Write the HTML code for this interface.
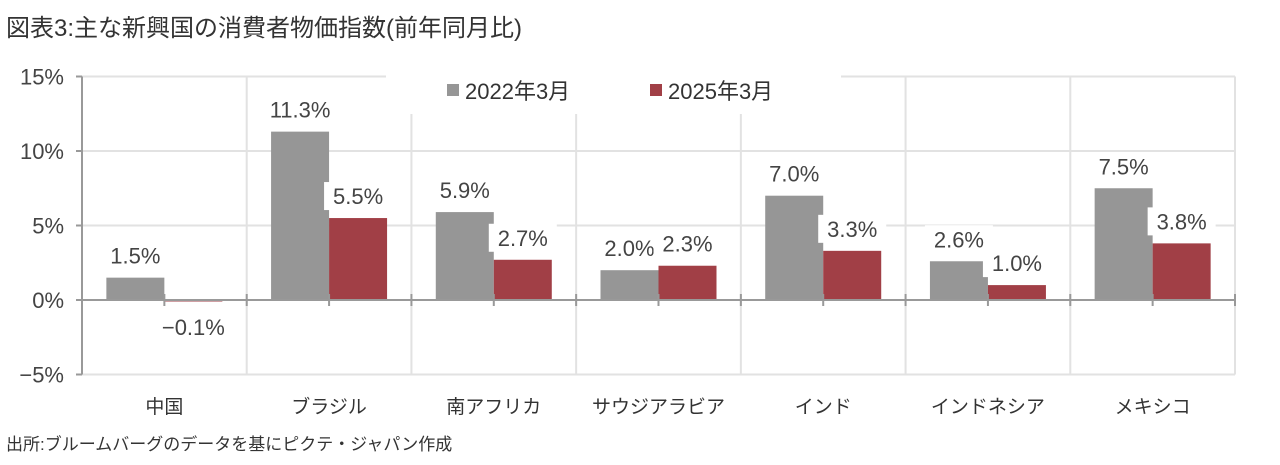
<!DOCTYPE html>
<html><head><meta charset="utf-8"><style>
body{margin:0;background:#fff;width:1280px;height:460px;overflow:hidden;font-family:"Liberation Sans","Noto Sans CJK JP",sans-serif}
svg text{font-family:"Liberation Sans","Noto Sans CJK JP",sans-serif}
</style></head><body>
<svg width="1280" height="460">
<text x="6" y="36" font-size="24" fill="#333">図表3:主な新興国の消費者物価指数(前年同月比)</text>
<g id="plot"></g>
<text x="6" y="450" font-size="17" fill="#333">出所:ブルームバーグのデータを基にピクテ・ジャパン作成</text>
</svg>
<script>
const categories=["中国","ブラジル","南アフリカ","サウジアラビア","インド","インドネシア","メキシコ"];
const seriesNames=["2022年3月","2025年3月"];
const values2022=[1.5,11.3,5.9,2.0,7.0,2.6,7.5];
const values2025=[-0.1,5.5,2.7,2.3,3.3,1.0,3.8];
const yTicks=[-5,0,5,10,15];
const yTickLabels=["−5%","0%","5%","10%","15%"];
const colors=["#969696","#a13f46"];
const NS="http://www.w3.org/2000/svg";
const g=document.getElementById('plot');
const X0=82,X1=1235,Y0=300,PER=74.5/5;
const cw=(X1-X0)/categories.length;
const y=v=>Y0-v*PER;
function mk(t,a){const e=document.createElementNS(NS,t);for(const k in a)e.setAttribute(k,a[k]);g.appendChild(e);return e;}
// horizontal grid
yTicks.forEach((t,i)=>{
 if(t!==0){const l=mk('line',{x1:X0,x2:X1,y1:y(t),y2:y(t),stroke:'#e2e2e2','stroke-width':2});
 
 }
 const tk=mk('line',{x1:X0-6,x2:X0,y1:y(t),y2:y(t),stroke:'#999','stroke-width':2});
 
 
 const tx=mk('text',{x:X0-18,y:y(t)+8,'text-anchor':'end','font-size':22,fill:'#444'});
 tx.textContent=yTickLabels[i];
 
 
});
// vertical grid
for(let i=1;i<=categories.length;i++){
 const l=mk('line',{x1:X0+i*cw,x2:X0+i*cw,y1:y(15),y2:y(-5),stroke:'#e2e2e2','stroke-width':2});
 
 
}
// legend bg
const lb=mk('rect',{x:386,y:66,width:455,height:48,fill:'#fff'});


seriesNames.forEach((n,i)=>{
 const lx=447+i*203;
 const r=mk('rect',{x:lx,y:84,width:12,height:12,fill:colors[i]});
 
 
 const t=mk('text',{x:lx+18,y:99,'font-size':22,fill:'#333'});
 t.textContent=n;
 
 
});
// bars
const bw=58;
categories.forEach((c,i)=>{
 const cx=X0+(i+0.5)*cw;
 [values2022,values2025].forEach((vals,s)=>{
  const v=vals[i];const bx=s===0?cx-bw:cx;
  const top=Math.min(y(v),Y0),h=Math.max(Math.abs(y(v)-Y0),1);
  const b=mk('rect',{x:bx,y:top,width:bw,height:h,fill:colors[s]});
  
  
  const ly=v>=0?y(v)-14:Y0+35;
  const tb=mk('rect',{x:bx+bw/2-34,y:ly-22,width:68,height:28,fill:'#fff'});
  
  
  const t=mk('text',{x:bx+bw/2,y:ly,'text-anchor':'middle','font-size':22,fill:'#444'});
  t.textContent=(v<0?'−':'')+Math.abs(v).toFixed(1)+'%';
  
  
 });
 const xl=mk('text',{x:cx,y:413,'text-anchor':'middle','font-size':19,fill:'#333'});
 xl.textContent=c;
 
 
});
// axes
const ya=mk('line',{x1:X0,x2:X0,y1:y(15),y2:y(-5),stroke:'#999','stroke-width':2});


const xa=mk('line',{x1:X0,x2:X1,y1:Y0,y2:Y0,stroke:'#999','stroke-width':2});


for(let i=1;i<=categories.length*2;i++){
 const tx=X0+i*cw/2;
 const t=mk('line',{x1:tx,x2:tx,y1:Y0-6,y2:Y0+6,stroke:'#999','stroke-width':2});
 
 
}
</script>
</body></html>
